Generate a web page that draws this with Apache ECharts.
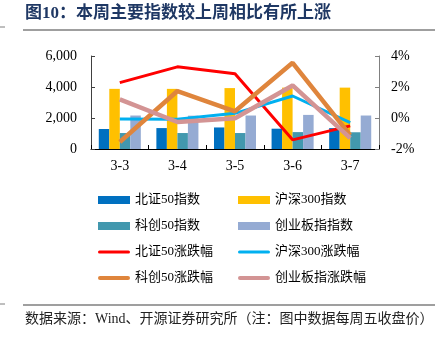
<!DOCTYPE html>
<html><head><meta charset="utf-8">
<script src="https://cdn.jsdelivr.net/npm/echarts@6/dist/echarts.min.js"></script>
<style>html,body{margin:0;padding:0;background:#fff}#c{width:440px;height:342px}</style>
</head><body><div id="c"></div>
<script>
const categories = ['3-3','3-4','3-5','3-6','3-7'];
const leftTicks = [0, 2000, 4000, 6000];
const rightTicks = [-2, 0, 2, 4];
const bse50 = [1290, 1350, 1390, 1310, 1350];
const csi300 = [3880, 3880, 3930, 3960, 3960];
const star50 = [1030, 1030, 1030, 1090, 1080];
const chinext = [2160, 2150, 2160, 2200, 2160];
const bse50Chg = [2.28, 3.3, 2.86, -1.41, -0.51];
const csi300Chg = [-0.06, -0.08, 0.3, 1.42, -0.3];
const star50Chg = [-1.55, 1.74, 0.43, 3.56, -1.1];
const chinextChg = [1.2, -0.26, -0.02, 2.1, -1.3];

const cjk = '"Liberation Serif","Noto Sans CJK SC",serif';
const chart = echarts.init(document.getElementById('c'));
const bar = (name, data, color) => ({name, type:'bar', data, yAxisIndex:0, barGap:'0%', barCategoryGap:'27%', itemStyle:{color}});
const line = (name, data, color, w) => ({name, type:'line', data, yAxisIndex:1, symbol:'none', lineStyle:{color, width:w}, itemStyle:{color}, z:5});
const legendText = {fontFamily:cjk, fontSize:13, color:'#000', lineHeight:14};
const thin = 'path://M1.5,0H30.5A1.5,1.5,0,0,1,30.5,3H1.5A1.5,1.5,0,0,1,1.5,0Z';
const thick = 'path://M2,0H30A2,2,0,0,1,30,4H2A2,2,0,0,1,2,0Z';
chart.setOption({
  animation:false,
  grid:{left:91, right:61, top:56, bottom:193},
  graphic:[
    {type:'text', left:25, top:5, style:{text:'图10：本周主要指数较上周相比有所上涨', font:'bold 17px "Liberation Serif","Noto Sans CJK SC",serif', fill:'#1F3864'}},
    {type:'line', shape:{x1:23,y1:30,x2:435,y2:30}, style:{stroke:'#7F7F7F', lineWidth:1.5}},
    {type:'line', shape:{x1:0,y1:27,x2:5,y2:27}, style:{stroke:'#7F7F7F', lineWidth:1}},
    {type:'line', shape:{x1:23,y1:305,x2:435,y2:305}, style:{stroke:'#7F7F7F', lineWidth:1.5}},
    {type:'line', shape:{x1:0,y1:304,x2:5,y2:304}, style:{stroke:'#7F7F7F', lineWidth:1}},
    {type:'text', left:25, top:312, style:{text:'数据来源：Wind、开源证券研究所（注：图中数据每周五收盘价）', font:'14px "Liberation Serif","Noto Sans CJK SC",serif', fill:'#222'}}
  ],
  legend:[
    {orient:'vertical', left:93, top:188, itemWidth:32, itemHeight:8, itemGap:12, textStyle:legendText,
     data:[{name:'北证50指数', icon:'rect'},{name:'科创50指数', icon:'rect'},{name:'北证50涨跌幅', icon:thin},{name:'科创50涨跌幅', icon:thick}]},
    {orient:'vertical', left:233, top:188, itemWidth:32, itemHeight:8, itemGap:12, textStyle:legendText,
     data:[{name:'沪深300指数', icon:'rect'},{name:'创业板指指数', icon:'rect'},{name:'沪深300涨跌幅', icon:thin},{name:'创业板指涨跌幅', icon:thick}]}
  ],
  xAxis:{type:'category', data:categories, axisTick:{show:true, inside:true, length:4, alignWithLabel:false, lineStyle:{color:'#000'}},
    axisLine:{lineStyle:{color:'#000', width:1}},
    axisLabel:{fontFamily:'"Liberation Serif",serif', fontSize:14, color:'#000', margin:10}},
  yAxis:[
    {type:'value', min:leftTicks[0], max:leftTicks[leftTicks.length-1], interval:2000, splitLine:{show:false},
     axisLine:{show:true, lineStyle:{color:'#404040'}}, axisTick:{show:true, inside:true, length:4, lineStyle:{color:'#404040'}},
     axisLabel:{fontFamily:'"Liberation Serif",serif', fontSize:14, color:'#000', margin:14,
       formatter:v=>v.toLocaleString('en-US')}},
    {type:'value', min:rightTicks[0], max:rightTicks[rightTicks.length-1], interval:2, splitLine:{show:false},
     axisLine:{show:true, lineStyle:{color:'#808080'}}, axisTick:{show:true, inside:true, length:4, lineStyle:{color:'#808080'}},
     axisLabel:{fontFamily:'"Liberation Serif",serif', fontSize:14, color:'#000', margin:12, formatter:v=>v+'%'}}
  ],
  series:[
    bar('北证50指数', bse50, '#0070C0'),
    bar('沪深300指数', csi300, '#FFC000'),
    bar('科创50指数', star50, '#4298AE'),
    bar('创业板指指数', chinext, '#95ABD3'),
    line('北证50涨跌幅', bse50Chg, '#FF0000', 3),
    line('沪深300涨跌幅', csi300Chg, '#00B0F0', 3),
    line('科创50涨跌幅', star50Chg, '#DF853C', 4.5),
    line('创业板指涨跌幅', chinextChg, '#D39494', 4.5)
  ]
});
</script></body></html>
